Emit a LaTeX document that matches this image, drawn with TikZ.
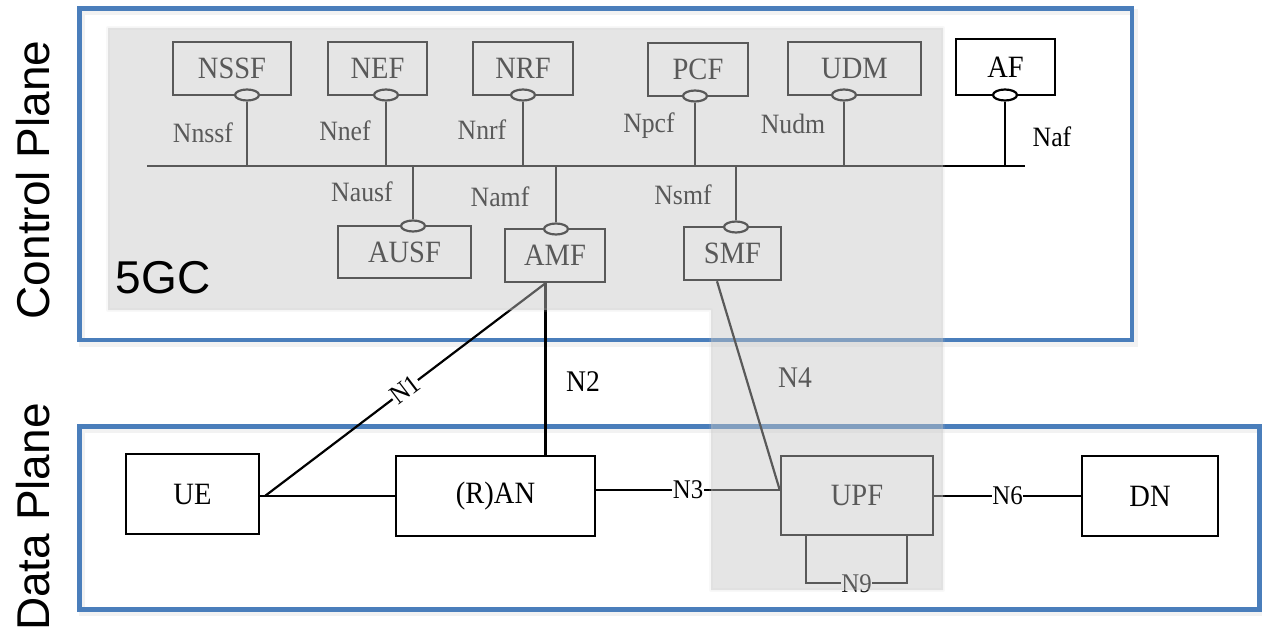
\documentclass[tikz,border=0pt]{standalone}
\usepackage{fontspec}
\setmainfont[FakeStretch=0.92]{Liberation Serif}
\newfontfamily\planefont{Liberation Sans}
\usetikzlibrary{shapes.geometric,calc}
\definecolor{frameblue}{RGB}{74,126,187}
\definecolor{coregray}{RGB}{198,198,198}

\tikzset{
  nf/.style={draw, line width=2.5pt, fill=white, minimum height=53pt, inner sep=0pt,
             font=\fontsize{31}{32}\selectfont},
  port/.style={draw, ellipse, line width=2.2pt, fill=white, minimum width=24pt,
               minimum height=11pt, inner sep=0pt},
  link/.style={line width=2.2pt},
  iflabel/.style={inner sep=0pt, font=\fontsize{28}{29}\selectfont},
  reflabel/.style={inner sep=0pt, font=\fontsize{30}{31}\selectfont},
  onlink/.style={fill=white, inner sep=0.5pt, font=\fontsize{27}{28}\selectfont},
  plane/.style={draw=frameblue, line width=4.5pt},
  planeshadow/.style={draw=black, line width=6pt, opacity=0.05},
  planetitle/.style={inner sep=0pt, font=\planefont\fontsize{46}{48}\selectfont},
}

\begin{document}
\begin{tikzpicture}[x=1pt, y={(0pt,-1pt)}]
  \useasboundingbox (0,0) rectangle (1262,634);

  % plane frames with a soft shadow
  \draw[planeshadow] (82,12) rectangle (1135,344);
  \draw[planeshadow] (82,430) rectangle (1262,613);
  \draw[plane] (79.5,8.5) rectangle (1132,340);
  \draw[plane] (79.5,426.5) rectangle (1259.5,609.5);

  \node[planetitle, rotate=90] (cp) at (33,180) {Control Plane};
  \node[planetitle, rotate=90] (dp) at (33,517) {Data Plane};

  % control-plane network functions
  \node[nf, minimum width=118pt] (NSSF) at (232,68.5) {NSSF};
  \node[nf, minimum width=99pt]  (NEF)  at (377.5,68.5) {NEF};
  \node[nf, minimum width=100pt] (NRF)  at (523,68.5) {NRF};
  \node[nf, minimum width=100pt] (PCF)  at (698,69.5) {PCF};
  \node[nf, minimum width=133pt] (UDM)  at (854.5,68.5) {UDM};
  \node[nf, minimum width=99pt, minimum height=56pt] (AF) at (1005.5,67) {AF};
  \node[nf, minimum width=133pt, minimum height=52pt] (AUSF) at (404.5,252) {AUSF};
  \node[nf, minimum width=100pt] (AMF)  at (555,255.5) {AMF};
  \node[nf, minimum width=97pt]  (SMF)  at (732.5,253.5) {SMF};

  % service-based bus
  \coordinate (busL) at (147,166);
  \coordinate (busR) at (1025,166);
  \draw[link] (busL) -- (busR);

  % service interfaces
  \node[port] (pNSSF) at (247,95) {};
  \node[port] (pNEF)  at (386,95) {};
  \node[port] (pNRF)  at (523,95) {};
  \node[port] (pPCF)  at (695,96) {};
  \node[port] (pUDM)  at (844,95) {};
  \node[port] (pAF)   at (1005,95) {};
  \node[port] (pAUSF) at (413,226) {};
  \node[port] (pAMF)  at (556,229) {};
  \node[port] (pSMF)  at (736,227) {};
  \foreach \p in {pNSSF,pNEF,pNRF,pPCF,pUDM,pAF,pAUSF,pAMF,pSMF}
    \draw[link] (\p) -- (\p |- busL);

  \node[iflabel] (lNnssf) at (203,133) {Nnssf};
  \node[iflabel] (lNnef)  at (345,131) {Nnef};
  \node[iflabel] (lNnrf)  at (482,130) {Nnrf};
  \node[iflabel] (lNpcf)  at (649,126) {Npcf};
  \node[iflabel] (lNudm)  at (793,124) {Nudm};
  \node[iflabel] (lNaf)   at (1052,137) {Naf};
  \node[iflabel] (lNausf) at (362,192) {Nausf};
  \node[iflabel] (lNamf)  at (500,197) {Namf};
  \node[iflabel] (lNsmf)  at (683,195) {Nsmf};

  % user-plane nodes
  \node[nf, minimum width=133pt, minimum height=80pt] (UE)  at (192.5,494) {UE};
  \node[nf, minimum width=199pt, minimum height=80pt] (RAN) at (495.5,496) {(R)AN};
  \node[nf, minimum width=152pt, minimum height=79pt] (UPF) at (857,495.5) {UPF};
  \node[nf, minimum width=136pt, minimum height=80pt] (DN)  at (1150,496) {DN};

  % reference points
  \coordinate (amfPort) at ($(AMF.south)+(-9.5,0)$);
  \coordinate (smfPort) at ($(SMF.south)+(-15.5,0)$);
  \coordinate (ueTap) at (265,496);

  \draw[link] (RAN.west -| UE.east) -- (RAN.west);
  \draw[link] (ueTap) -- node[onlink, sloped] {N1} (amfPort);
  \draw[link] (amfPort) -- (amfPort |- RAN.north);
  \node[reflabel] (lN2) at (583,382) {N2};
  \draw[link] ([yshift=6pt]RAN.east) -- node[onlink] {N3} ([yshift=6pt]RAN.east -| UPF.west);
  \draw[link] (smfPort) -- ([yshift=5.5pt]UPF.west);
  \node[reflabel] (lN4) at (795,378) {N4};
  \draw[link] (UPF.east |- DN.west) -- node[onlink] {N6} (DN.west);
  \draw[link] ([xshift=-51pt]UPF.south) -- ++(0,47)
        -| node[onlink, pos=0.25] {N9} ([xshift=50pt]UPF.south);

  % translucent 5GC region laid over the core functions
  \path[fill=coregray, opacity=0.45]
    (108,28) -- (943,28) -- (943,590) -- (711,590) -- (711,310) -- (108,310) -- cycle;
  \draw[coregray, line width=4pt, opacity=0.12, line join=round]
    (108,28) -- (943,28) -- (943,590) -- (711,590) -- (711,310) -- (108,310) -- cycle;

  \node[planetitle] (core) at (163,278) {5GC};
\end{tikzpicture}
\end{document}
